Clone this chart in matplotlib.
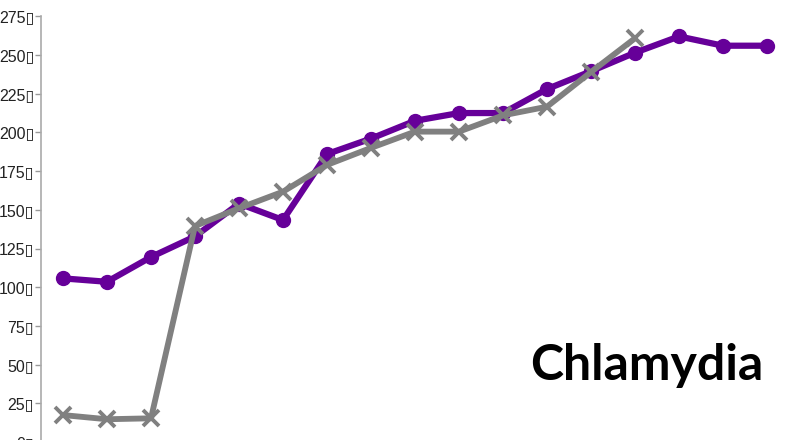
import matplotlib
matplotlib.use("Agg")
import matplotlib.pyplot as plt
from matplotlib import font_manager

# Annual chlamydia rates (per 100,000) for two series
periods = list(range(17))
series_a = [105.7, 103.5, 119.5, 132.8, 154.0, 143.4, 186.0, 196.0, 207.5, 212.5, 212.5,
            228.0, 239.5, 251.5, 262.0, 256.0, 256.0]
series_b = [17.4, 14.7, 15.3, 139.5, 151.0, 161.7, 179.0, 190.0, 200.5, 200.5, 211.0,
            216.6, 239.0, 260.8]
y_ticks = list(range(0, 276, 25))
y_tick_labels = [f"{v}\u25af" for v in y_ticks]
title_text = "Chlamydia"

available = {f.name for f in font_manager.fontManager.ttflist}
tick_family = [f for f in ["Liberation Sans Narrow", "Liberation Sans", "DejaVu Sans"] if f in available]
title_family = [f for f in ["Lato", "Open Sans", "DejaVu Sans"] if f in available]

fig = plt.figure(figsize=(7.88, 4.40), dpi=100)
W, H = 788, 440
left_px, right_px = 41, 789
top_px, bottom_px = 16.3, 442
ax = fig.add_axes([left_px / W, 1 - bottom_px / H,
                   (right_px - left_px) / W, (bottom_px - top_px) / H])
ax.set_clip_on(False)

purple = "#660099"
grey = "#808080"

ax.plot(periods, series_a, color=purple, lw=4.5, marker="o", ms=10,
        markerfacecolor=purple, markeredgecolor=purple, zorder=3, solid_capstyle="round")
ax.plot(periods[:len(series_b)], series_b, color=grey, lw=4.2, marker="x", ms=12,
        markeredgewidth=2.8, zorder=4, solid_capstyle="round")

ax.set_xlim(-0.5, 16.5)
ax.set_ylim(0, 275)
ax.set_yticks(y_ticks)
ax.set_yticklabels(y_tick_labels, family=tick_family, fontsize=11.5, color="#222222")
ax.tick_params(axis="y", direction="out", length=4, width=1, color="#999999", pad=1)
ax.set_xticks([])

for side in ["top", "right", "bottom"]:
    ax.spines[side].set_visible(False)
ax.spines["left"].set_color("#aaaaaa")
ax.spines["left"].set_linewidth(1.2)

fig.text(763 / W, 1 - 380 / H, title_text, family=title_family, fontweight="bold",
         fontsize=36, ha="right", va="baseline", color="black")

fig.savefig("out.png", dpi=100)
